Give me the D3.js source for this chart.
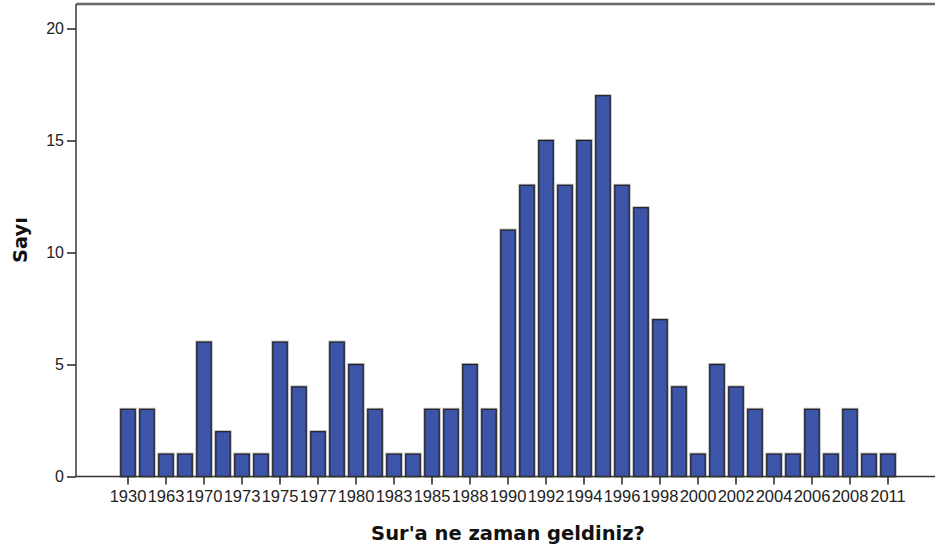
<!DOCTYPE html>
<html>
<head>
<meta charset="utf-8">
<script src="https://cdn.jsdelivr.net/npm/d3@7"></script>
<style>
  html, body { margin: 0; padding: 0; background: #fff; }
  svg { display: block; }
</style>
</head>
<body>
<svg id="chart" width="935" height="552"></svg>
<script>
// Year of arrival (Sur) and number of respondents per year
const years = ["1930", "1960", "1963", "1965", "1970", "1972", "1973", "1974", "1975", "1976",
               "1977", "1978", "1980", "1982", "1983", "1984", "1985", "1987", "1988", "1989",
               "1990", "1991", "1992", "1993", "1994", "1995", "1996", "1997", "1998", "1999",
               "2000", "2001", "2002", "2003", "2004", "2005", "2006", "2007", "2008", "2010", "2011"];
const counts = [3, 3, 1, 1, 6, 2, 1, 1, 6, 4,
                2, 6, 5, 3, 1, 1, 3, 3, 5, 3,
                11, 13, 15, 13, 15, 17, 13, 12, 7, 4,
                1, 5, 4, 3, 1, 1, 3, 1, 3, 1, 1];
const yTicks = [0, 5, 10, 15, 20];
const xTitle = "Sur'a ne zaman geldiniz?";
const yTitle = "Sayı";

const svg = d3.select("#chart");
const plotLeft = 76, plotTop = 4, plotRight = 935, plotBottom = 476.5;
const tickFont = "'Liberation Sans', Arial, sans-serif";
const titleFont = "'DejaVu Sans', Verdana, sans-serif";

const x = d3.scaleBand()
  .domain(years)
  .range([118.5, 897.5])
  .paddingInner(0.24)
  .paddingOuter(0.12);

const y = d3.scaleLinear()
  .domain([0, 20])
  .range([plotBottom, 28.5]);

// Bars with a soft grey halo round a dark outline
const bars = svg.append("g");
const data = years.map((yr, i) => ({ yr, v: counts[i] }));
bars.selectAll("rect.halo").data(data).join("rect")
  .attr("class", "halo")
  .attr("x", d => x(d.yr))
  .attr("y", d => y(d.v))
  .attr("width", x.bandwidth())
  .attr("height", d => plotBottom - y(d.v))
  .attr("fill", "none")
  .attr("stroke", "#b8b8b8")
  .attr("stroke-width", 3);
bars.selectAll("rect.bar").data(data).join("rect")
  .attr("class", "bar")
  .attr("x", d => x(d.yr))
  .attr("y", d => y(d.v))
  .attr("width", x.bandwidth())
  .attr("height", d => plotBottom - y(d.v))
  .attr("fill", "#3d55a8")
  .attr("stroke", "#1e1e24")
  .attr("stroke-width", 1.2);

// Frame: top edge
svg.append("line")
  .attr("x1", plotLeft).attr("x2", plotRight)
  .attr("y1", plotTop).attr("y2", plotTop)
  .attr("stroke", "#c8c8c8").attr("stroke-width", 3.5);
svg.append("line")
  .attr("x1", plotLeft).attr("x2", plotRight)
  .attr("y1", plotTop).attr("y2", plotTop)
  .attr("stroke", "#4a4a4a").attr("stroke-width", 1.6);

// Y axis
const yAxis = d3.axisLeft(y).tickValues(yTicks).tickSize(9).tickPadding(3);
const gy = svg.append("g").attr("transform", `translate(${plotLeft},0)`).call(yAxis);
gy.select(".domain").attr("stroke", "#444").attr("stroke-width", 1.6)
  .attr("d", `M0,${plotTop}V${plotBottom}`);
gy.selectAll(".tick line").attr("stroke", "#333").attr("stroke-width", 1.6);
gy.selectAll(".tick text")
  .attr("font-family", tickFont)
  .attr("font-size", 16).attr("fill", "#222");

// X axis
const xAxis = d3.axisBottom(x)
  .tickValues(years.filter((d, i) => i % 2 === 0))
  .tickSize(8).tickPadding(6);
const gx = svg.append("g").attr("transform", `translate(0,${plotBottom})`).call(xAxis);
gx.select(".domain").attr("stroke", "#333").attr("stroke-width", 1.3)
  .attr("d", `M${plotLeft},0H${plotRight}`);
gx.selectAll(".tick line").attr("stroke", "#333").attr("stroke-width", 1.6);
gx.selectAll(".tick text")
  .attr("font-family", tickFont)
  .attr("font-size", 16.5).attr("fill", "#222");

// Axis titles
svg.append("text")
  .attr("x", 508).attr("y", 540)
  .attr("text-anchor", "middle")
  .attr("font-family", titleFont)
  .attr("font-weight", "bold")
  .attr("font-size", 19.5)
  .attr("fill", "#111")
  .text(xTitle);

svg.append("text")
  .attr("transform", "translate(27,240) rotate(-90)")
  .attr("text-anchor", "middle")
  .attr("font-family", titleFont)
  .attr("font-weight", "bold")
  .attr("font-size", 19.5)
  .attr("fill", "#111")
  .text(yTitle);
</script>
</body>
</html>
